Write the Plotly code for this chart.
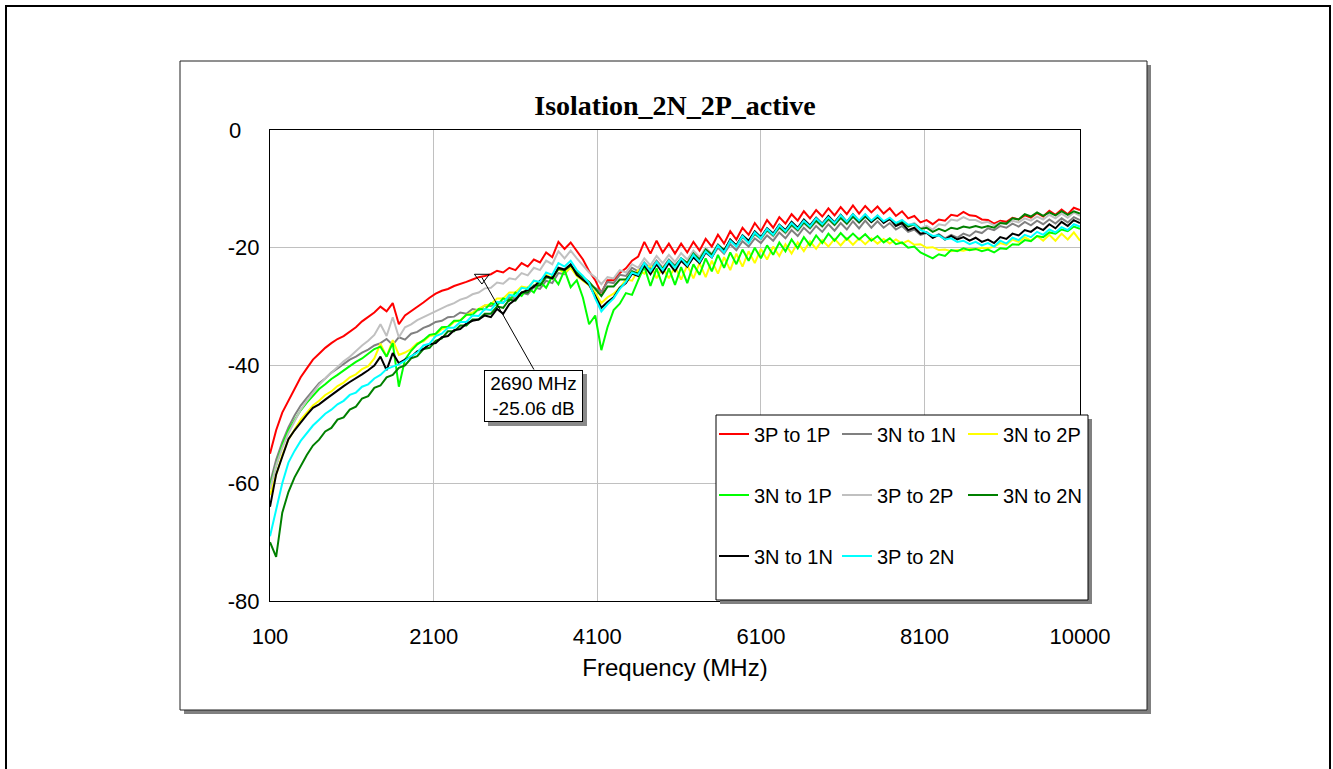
import plotly.graph_objects as go

# Frequency sweep (MHz), 75 MHz step
freq = [100 + 75 * i for i in range(133)]

s_3P_1P = [-55, -51, -48, -46, -44, -42, -40.5, -39, -38, -37,
           -36.2, -35.5, -35, -34.3, -33.5, -32.5, -31.7, -31, -30, -30.8,
           -29.4, -33, -31.5, -30.8, -30, -29.3, -28.5, -27.8, -27.3, -27,
           -26.5, -26.2, -25.8, -25.4, -25, -24.8, -24.5, -23.9, -24.2, -23.4,
           -23.8, -22.6, -23.2, -22, -22.5, -20.8, -21.6, -19, -20.2, -19.1,
           -20.5, -22, -24, -25.5, -27.7, -25.5, -25.5, -24.3, -23.5, -22.2,
           -21.5, -19, -21, -18.8, -20.8, -19.3, -21, -19.3, -20.8, -19,
           -20.5, -18.5, -19.8, -17.8, -19.3, -17.2, -18.6, -16.6, -17.8, -15.8,
           -17.2, -15.3, -16.6, -14.8, -15.9, -14.3, -15.4, -13.8, -15, -13.6,
           -14.7, -13.3, -14.5, -13.1, -14.3, -12.8, -14.2, -12.9, -14, -13,
           -14.2, -13.3, -14.6, -13.8, -15, -14.6, -15.7, -15.3, -16, -15.2,
           -15.4, -14.4, -14.6, -13.9, -14.5, -14.6, -15.2, -15.3, -15.9, -15.4,
           -15.6, -14.9, -15.2, -14.5, -14.9, -14.1, -14.7, -13.7, -14.4, -13.5,
           -14.3, -13.2, -13.6]

s_3N_1N_gray = [-60, -56, -53, -50.5, -48.5, -46.8, -45.5, -44.2, -43, -42.2,
                -41.2, -40.5, -39.8, -39, -38.5, -37.8, -37.3, -36.6, -36.2, -35.5,
                -36.5, -35.2, -35.6, -34.6, -34.3, -33.6, -33.2, -32.6, -32.4, -31.8,
                -31.7, -31, -31.2, -30.4, -30.6, -29.8, -29.9, -29.2, -29.3, -28.4,
                -28.6, -27.6, -27.9, -26.7, -27, -25.6, -26, -24.3, -24.5, -23.2,
                -24.6, -25.5, -26.2, -26.8, -27.5, -25.8, -26, -24.6, -24.8, -23.4,
                -24, -22.5, -23.6, -22.2, -23.4, -22, -23, -21.8, -22.6, -21.2,
                -22.2, -20.6, -21.6, -20, -21, -19.4, -20.4, -18.9, -19.8, -18.4,
                -19.2, -17.9, -18.8, -17.4, -18.4, -17, -18, -16.6, -17.6, -16.3,
                -17.3, -16, -17.1, -15.8, -16.9, -15.5, -16.7, -15.4, -16.6, -15.5,
                -16.6, -15.8, -16.9, -16.3, -17.3, -16.9, -17.8, -17.5, -18.3, -17.7,
                -18.4, -17.8, -18.3, -17.6, -18, -17.2, -17.5, -16.7, -17, -16.3,
                -16.6, -15.9, -16.4, -15.6, -16.2, -15.4, -16, -15.2, -15.9, -15,
                -15.7, -14.8, -15.3]

s_3N_2P = [-62, -58.6, -55.2, -52.6, -50.8, -49.2, -48, -46.8, -46, -45,
           -44.4, -43.5, -42.9, -42, -41.5, -40.6, -40.1, -38.8, -36.3, -38.5,
           -35.7, -38.2, -37.8, -37.2, -36.2, -35.9, -35, -34.8, -33.8, -33.5,
           -32.6, -32.3, -31.4, -31, -30.4, -29.8, -29.6, -28.6, -28.6, -27.6,
           -27.6, -26.6, -26.8, -25.6, -26, -24.6, -25.2, -23.6, -24.3, -23.4,
           -24.8, -25.6, -26.4, -27.6, -29.4, -28.4, -27.8, -26.8, -25.4, -25.6,
           -23.8, -24.4, -22.8, -25.2, -23.4, -25.2, -23.2, -25.4, -23, -25.2,
           -22.6, -25, -22.2, -24.4, -21.6, -23.8, -21, -23.2, -20.6, -22.6,
           -20.2, -22, -19.8, -21.4, -19.4, -21, -19.1, -20.6, -18.9, -20.2,
           -18.7, -19.8, -18.5, -19.6, -18.4, -19.5, -18.4, -19.4, -18.4, -19.3,
           -18.5, -19.3, -18.6, -19.3, -18.8, -19.5, -19.4, -20, -19.9, -20.4,
           -20.3, -20.6, -20.4, -20.5, -20.2, -20.3, -20, -20.1, -19.8, -19.2,
           -19.5, -18.6, -19, -18.2, -18.8, -18, -18.8, -17.8, -18.8, -17.6,
           -18.6, -17.4, -18.8]

s_3N_1P = [-60.5, -57, -53.5, -51, -49.2, -47.6, -46.3, -45.2, -44, -43.2,
           -42.3, -41.6, -40.8, -40.1, -39.4, -38.8, -38, -37.2, -36.8, -38.5,
           -36.2, -43.6, -39, -37.5, -36.4, -35.7, -34.8, -34.6, -33.5, -33.4,
           -32.4, -32.4, -31.4, -31.4, -30.4, -30.5, -29.4, -29.8, -28.6, -29,
           -27.6, -28.2, -26.8, -27.6, -25.8, -26.8, -24.8, -26.2, -23.8, -26.7,
           -25.5, -28.5, -33, -31.5, -37.4, -33.5, -30.6, -29.5, -27.7, -28,
           -25.5, -23.2, -26.5, -23.5, -26.5, -23.5, -26.3, -23.3, -26, -22.8,
           -24.6, -21.8, -24, -21.2, -23.4, -20.8, -22.8, -20.3, -22.2, -20,
           -21.8, -19.6, -21.2, -19.1, -20.6, -18.6, -20.1, -18.2, -19.6, -17.9,
           -19.2, -17.6, -18.8, -17.5, -18.6, -17.6, -18.6, -17.7, -18.8, -18,
           -19.1, -18.4, -19.4, -19.1, -20, -19.8, -20.8, -21.3, -21.8, -21.1,
           -21.4, -20.4, -20.6, -20.1, -20.4, -20.2, -20.6, -20.3, -20.8, -20.1,
           -20.2, -19.4, -19.5, -18.7, -18.9, -18, -18.2, -17.4, -17.6, -16.9,
           -17.2, -16.4, -16.8]

s_3P_2P = [-61, -57, -54, -51.5, -49.5, -47.5, -46, -44.6, -43.3, -42.2,
           -41.2, -40.2, -39.3, -38.5, -37.5, -36.6, -35.8, -34.8, -33, -35,
           -31.8, -35.2, -33.5, -33, -32.3, -31.8, -31.2, -30.8, -30.2, -29.8,
           -29.4, -28.8, -28.5, -27.9, -27.6, -26.9, -26.8, -25.9, -26.1, -25.2,
           -25.4, -24.3, -24.7, -23.4, -23.8, -22.2, -22.8, -20.6, -21.8, -20.5,
           -21.8, -23, -24.2, -25, -26.2, -25, -25.2, -23.8, -24.2, -22.8,
           -23.4, -21.8, -23, -21.4, -22.6, -21.2, -22.4, -20.9, -22, -20.5,
           -21.6, -20, -21, -19.4, -20.4, -18.8, -19.8, -18.3, -19.2, -17.7,
           -18.6, -17.2, -18.1, -16.7, -17.6, -16.3, -17.2, -15.9, -16.8, -15.6,
           -16.5, -15.3, -16.2, -15, -16, -14.8, -15.8, -14.7, -15.7, -14.8,
           -15.7, -15, -15.9, -15.3, -16.2, -15.8, -16.7, -16.3, -16.9, -16,
           -16.2, -15.2, -15.4, -14.8, -15.3, -15.3, -15.8, -15.6, -16.2, -15.7,
           -16, -15.4, -15.7, -15, -15.4, -14.7, -15.2, -14.4, -15, -14.2,
           -14.9, -14, -14.6]

s_3N_2N = [-70, -72.5, -65, -61.5, -59, -57, -55.2, -53.6, -52.6, -51.2,
           -50.6, -49.2, -48.8, -47.5, -47, -45.6, -45.2, -43.8, -43.4, -42,
           -41.6, -40.4, -40, -38.8, -38.4, -37.2, -37, -35.8, -35.4, -34.2,
           -34.2, -33.2, -33.2, -32.2, -32.2, -31.2, -31.2, -30, -30.2, -28.8,
           -29, -27.6, -27.6, -26.4, -26.4, -25, -25.2, -23.6, -23.8, -23,
           -24.2, -25, -25.8, -27, -28.2, -26.6, -26.6, -25.4, -25.4, -24,
           -24.4, -22.8, -24, -22.6, -23.6, -22.2, -23.2, -21.8, -22.6, -21,
           -22, -20.3, -21.2, -19.5, -20.4, -18.8, -19.6, -18.1, -19, -17.6,
           -18.4, -17, -17.9, -16.5, -17.4, -16.1, -17, -15.7, -16.6, -15.4,
           -16.3, -15.1, -16.1, -14.9, -15.9, -14.7, -15.7, -14.7, -15.6, -14.8,
           -15.6, -15.1, -15.9, -15.5, -16.4, -16, -16.8, -16.6, -17.3, -16.8,
           -17.2, -16.6, -16.8, -16.4, -16.6, -16.3, -16.6, -16.3, -16.6, -15.8,
           -15.9, -15, -15.2, -14.3, -14.7, -14, -14.6, -14, -14.5, -13.8,
           -14.4, -13.8, -14.2]

s_3N_1N_black = [-64, -58.5, -55.5, -52.5, -51, -49.6, -48.4, -47.2, -46.6, -45.8,
                 -45, -44.3, -43.5, -42.8, -42.2, -41.5, -40.8, -40, -38.5, -40.8,
                 -37.9, -39.6, -39, -38.5, -37.6, -37.2, -36.4, -36.2, -35.2, -35,
                 -34, -33.8, -32.9, -32.4, -32.2, -31.5, -31.8, -30.4, -31.2, -29.6,
                 -28.8, -27.6, -27.2, -26.6, -25.6, -24.8, -25.2, -23.4, -23.7, -22.8,
                 -24.6, -25.4, -26.3, -28.2, -30.2, -29.2, -28.4, -26.8, -26, -24.4,
                 -24.8, -23, -24.5, -22.8, -24.3, -22.6, -24, -22.2, -23.2, -21.6,
                 -22.6, -20.8, -21.6, -19.6, -20.6, -18.6, -19.6, -17.9, -18.8, -17.2,
                 -18.2, -16.7, -17.6, -16.1, -17, -15.6, -16.6, -15.2, -16.2, -14.9,
                 -15.9, -14.6, -15.7, -14.4, -15.6, -14.3, -15.5, -14.4, -15.6, -14.6,
                 -15.8, -15.1, -16.3, -15.8, -17, -16.6, -17.6, -17.4, -18.3, -17.8,
                 -18.6, -18, -18.6, -18.2, -18.8, -18.3, -19, -18.6, -19.2, -18.2,
                 -18.5, -17.6, -17.9, -17, -17.3, -16.5, -17, -16, -16.7, -15.6,
                 -16.3, -15.3, -15.8]

s_3P_2N = [-69, -64.5, -60, -56.5, -54.5, -52.8, -51.4, -50.2, -49.2, -48.2,
           -47.5, -46.6, -46, -45, -44.6, -43.6, -43.2, -42.2, -41.6, -40.6,
           -40.2, -39.8, -39.2, -38.4, -37.8, -36.6, -36.3, -35, -34.6, -33.6,
           -33.6, -32.6, -32.6, -31.5, -31.6, -30.4, -30.6, -29.2, -29.4, -28,
           -28.2, -26.8, -27, -25.6, -25.8, -24.2, -24.6, -22.6, -23.2, -22.2,
           -23.8, -24.8, -26, -28.6, -30.8, -29.6, -28.6, -27, -25.8, -24.2,
           -24.6, -22.6, -24, -22.4, -23.8, -22.2, -23.4, -21.8, -23, -21.2,
           -22.4, -20.6, -21.6, -19.6, -20.8, -18.8, -19.8, -18, -19.2, -17.4,
           -18.4, -16.8, -17.8, -16.2, -17.2, -15.8, -16.8, -15.4, -16.4, -15,
           -16, -14.8, -15.8, -14.5, -15.6, -14.3, -15.4, -14.3, -15.4, -14.5,
           -15.5, -14.9, -15.8, -15.3, -16.1, -16, -17, -17.4, -18, -17.9,
           -18.6, -18.4, -19, -18.8, -19.4, -19, -19.6, -19.2, -19.8, -18.8,
           -19.3, -18.3, -18.7, -17.8, -18.2, -17.3, -17.8, -16.9, -17.4, -16.5,
           -17, -16, -16.4]

series_names = ["3P to 1P", "3N to 1N", "3N to 2P", "3N to 1P", "3P to 2P",
                "3N to 2N", "3N to 1N", "3P to 2N"]
series_values = [s_3P_1P, s_3N_1N_gray, s_3N_2P, s_3N_1P, s_3P_2P,
                 s_3N_2N, s_3N_1N_black, s_3P_2N]
series_colors = ["#FF0000", "#808080", "#FFFF00", "#00FF00", "#C0C0C0",
                 "#008000", "#000000", "#00FFFF"]
# legend column of each series, as laid out in the reference
series_legend = ["legend", "legend2", "legend3", "legend", "legend2",
                 "legend3", "legend", "legend2"]

x_ticks = [100, 2100, 4100, 6100, 8100, 10000]
x_ticktext = ["100", "2100", "4100", "6100", "8100", "10000"]
y_ticks = [0, -20, -40, -60, -80]
y_ticktext = ["0\u2007\u00a0", "-20", "-40", "-60", "-80"]

marker_freq = 2690
marker_db = -25.06

fig = go.Figure()
for i, (name, vals, col, lg) in enumerate(zip(series_names, series_values,
                                              series_colors, series_legend)):
    fig.add_trace(go.Scatter(x=freq, y=vals, mode="lines", name=name,
                             legend=lg, legendgroup=f"g{i}",
                             line=dict(color=col, width=2), hoverinfo="skip"))

fig.add_trace(go.Scatter(x=[marker_freq], y=[marker_db], mode="markers",
                         marker=dict(symbol="triangle-down-open", size=13,
                                     color="black", line=dict(width=1)),
                         showlegend=False, hoverinfo="skip"))

ann_text = f"{marker_freq} MHz<br>{marker_db:.2f} dB"
ann_font = dict(family="Liberation Sans, Arial", size=19, color="black")
# shadow of the annotation box
fig.add_annotation(x=marker_freq, y=marker_db, text=" ", showarrow=True,
                   ax=52, ay=92, xanchor="center", yanchor="top",
                   width=93, height=46, arrowcolor="rgba(0,0,0,0)",
                   bgcolor="#8a8a8a", bordercolor="#8a8a8a", borderwidth=1,
                   borderpad=2, font=ann_font, xshift=4, yshift=-4)
fig.add_annotation(x=marker_freq, y=marker_db, text=ann_text, showarrow=True,
                   ax=52, ay=92, xanchor="center", yanchor="top",
                   width=93, height=46, arrowhead=0, arrowwidth=1, arrowcolor="black",
                   bgcolor="white", bordercolor="black", borderwidth=1, borderpad=2,
                   font=ann_font)

W, H = 1333, 769
L, R, T, B = 270, 253, 130, 168
pw, ph = W - L - R, H - T - B


def px(xp):
    return (xp - L) / pw


def py(yp):
    return (H - B - yp) / ph


shapes = [
    # outer frame
    dict(type="rect", xref="paper", yref="paper", x0=px(6), x1=px(1330), y0=py(775), y1=py(6),
         line=dict(color="black", width=2), fillcolor="rgba(0,0,0,0)", layer="below"),
    # chart box shadow
    dict(type="rect", xref="paper", yref="paper", x0=px(184), x1=px(1151), y0=py(714), y1=py(65),
         line=dict(width=0), fillcolor="#808080", layer="below"),
    # chart box
    dict(type="rect", xref="paper", yref="paper", x0=px(180), x1=px(1147), y0=py(710), y1=py(61),
         line=dict(color="#202020", width=1), fillcolor="white", layer="below"),
    # legend box shadow
    dict(type="rect", xref="paper", yref="paper", x0=px(720), x1=px(1092), y0=py(604), y1=py(419),
         line=dict(width=0), fillcolor="#808080", layer="above"),
    # legend box
    dict(type="rect", xref="paper", yref="paper", x0=px(716), x1=px(1088), y0=py(600), y1=py(415),
         line=dict(color="black", width=1), fillcolor="white", layer="above"),
]

legend_common = dict(orientation="v", yanchor="top", xanchor="left",
                     bgcolor="rgba(0,0,0,0)", borderwidth=0, tracegroupgap=32,
                     font=dict(family="Liberation Sans, Arial", size=20, color="black"),
                     itemclick=False, itemdoubleclick=False)

fig.update_layout(
    width=W, height=H,
    margin=dict(l=L, r=R, t=T, b=B, autoexpand=False),
    paper_bgcolor="white", plot_bgcolor="rgba(0,0,0,0)",
    font=dict(family="Liberation Sans, Arial", size=22, color="black"),
    title=dict(text="<b>Isolation_2N_2P_active</b>", x=0.5, xref="paper",
               y=1 - 105 / H, yref="container", xanchor="center", yanchor="middle",
               font=dict(family="Liberation Serif, Times New Roman", size=28, color="black")),
    xaxis=dict(range=[100, 10000], tickvals=x_ticks, ticktext=x_ticktext, showgrid=True,
               gridcolor="#C0C0C0", gridwidth=1, zeroline=False, showline=True,
               linecolor="black", linewidth=1, mirror=True, ticks="",
               ticklabelstandoff=16, automargin=False,
               title=dict(text="Frequency (MHz)", standoff=10, font=dict(size=24))),
    yaxis=dict(range=[-80, 0], tickvals=y_ticks, ticktext=y_ticktext, showgrid=True,
               gridcolor="#C0C0C0", gridwidth=1, zeroline=False, showline=True,
               linecolor="black", linewidth=1, mirror=True, ticks="",
               ticklabelstandoff=5, automargin=False),
    legend=dict(x=px(714), y=py(414.5), **legend_common),
    legend2=dict(x=px(837), y=py(414.5), **legend_common),
    legend3=dict(x=px(963), y=py(414.5), **legend_common),
    shapes=shapes,
    showlegend=True,
)

fig.write_html("out.html", config={"displayModeBar": False},
               post_script="document.body.style.margin='0px';")
